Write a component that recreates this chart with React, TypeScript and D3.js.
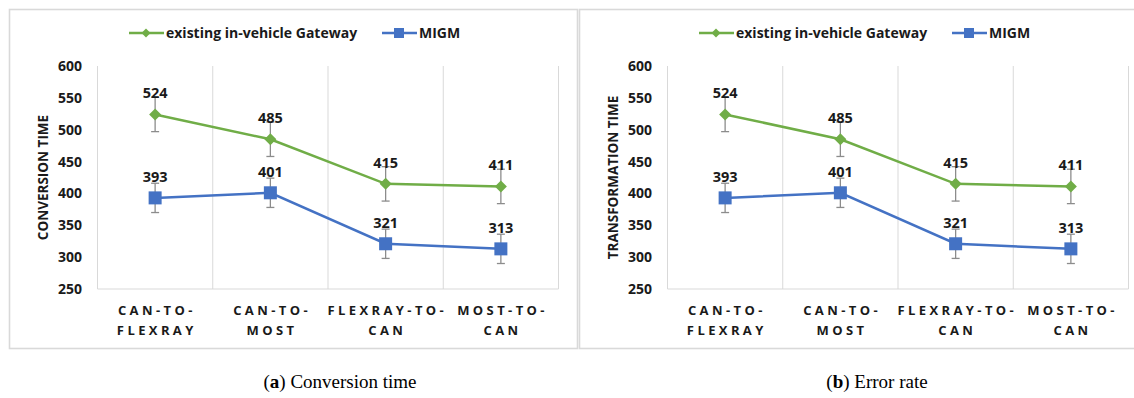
import React from "react";
import * as d3 from "d3";

const categories: string[][] = [
  ["CAN-TO-", "FLEXRAY"],
  ["CAN-TO-", "MOST"],
  ["FLEXRAY-TO-", "CAN"],
  ["MOST-TO-", "CAN"],
];
const gatewayValues = [524, 485, 415, 411];
const migmValues = [393, 401, 321, 313];
const gatewayErrors = [27, 27, 27, 27];
const migmErrors = [23, 23, 23, 23];
const yTicks = [250, 300, 350, 400, 450, 500, 550, 600];
const seriesNames = ["existing in-vehicle Gateway", "MIGM"];
const panelTitles = ["CONVERSION TIME", "TRANSFORMATION TIME"];
const captionLetters = ["a", "b"];
const captionTexts = [" Conversion time", " Error rate"];

const GREEN = "#70AD47";
const BLUE = "#4472C4";
const GRID = "#d9d9d9";
const ERR = "#8c8c8c";
const TXT = "#1a1a1a";
const FONT = "'Open Sans', sans-serif";

function Panel({ idx }: { idx: number }) {
  const dx = idx === 0 ? 0 : 570;
  const left = 97.5 + dx;
  const right = 558.5 + dx;
  const top = 66;
  const bottom = 289;
  const keys = categories.map((_, i) => String(i));
  const x = d3.scaleBand<string>().domain(keys).range([left, right]).padding(0);
  const y = d3.scaleLinear().domain([250, 600]).range([bottom, top]);
  const cx = (i: number) => (x(String(i)) as number) + x.bandwidth() / 2;
  const line = d3
    .line<number>()
    .x((_, i) => cx(i))
    .y((v) => y(v));

  const series = [
    { values: gatewayValues, errors: gatewayErrors, color: GREEN, kind: "diamond" },
    { values: migmValues, errors: migmErrors, color: BLUE, kind: "square" },
  ];

  const marker = (kind: string, px: number, py: number, color: string, key: string) =>
    kind === "diamond" ? (
      <path
        key={key}
        d={`M${px},${py - 6}L${px + 6},${py}L${px},${py + 6}L${px - 6},${py}Z`}
        fill={color}
      />
    ) : (
      <rect key={key} x={px - 6.5} y={py - 6.5} width={13} height={13} fill={color} />
    );

  const boundaries = [...keys.map((k) => x(k) as number), right];

  const legendX = [129 + dx, 382 + dx];
  const legendY = 33;

  return (
    <g>
      <rect
        x={idx === 0 ? 9.5 : 579.5}
        y={9.5}
        width={idx === 0 ? 568 : 600}
        height={339}
        fill="#fff"
        stroke={GRID}
        strokeWidth={1.6}
      />
      {/* legend */}
      {series.map((s, si) => (
        <g key={si}>
          <line
            x1={legendX[si]}
            x2={legendX[si] + 35}
            y1={legendY}
            y2={legendY}
            stroke={s.color}
            strokeWidth={2.5}
          />
          {s.kind === "diamond" ? (
            <path
              d={`M${legendX[si] + 17},${legendY - 4.5}L${legendX[si] + 21.5},${legendY}L${legendX[si] + 17},${legendY + 4.5}L${legendX[si] + 12.5},${legendY}Z`}
              fill={s.color}
            />
          ) : (
            <rect x={legendX[si] + 12} y={legendY - 5} width={10} height={10} fill={s.color} />
          )}
          <text
            x={legendX[si] + 37}
            y={legendY + 5}
            fontFamily={FONT}
            fontWeight={700}
            fontSize={14}
            fill={TXT}
          >
            {seriesNames[si]}
          </text>
        </g>
      ))}
      {/* grid */}
      {boundaries.map((bx, i) => (
        <line key={i} x1={bx} x2={bx} y1={top} y2={bottom} stroke={GRID} strokeWidth={1} />
      ))}
      <line x1={left} x2={right} y1={bottom} y2={bottom} stroke={GRID} strokeWidth={1} />
      {/* y ticks */}
      {yTicks.map((t) => (
        <text
          key={t}
          x={left - 15.5}
          y={y(t) + 5}
          textAnchor="end"
          fontFamily={FONT}
          fontWeight={700}
          fontSize={14}
          fill={TXT}
        >
          {t}
        </text>
      ))}
      {/* y title */}
      <text
        transform={`translate(${left - 54.5},${(top + bottom) / 2}) rotate(-90)`}
        textAnchor="middle"
        dominantBaseline="central"
        fontFamily={FONT}
        fontWeight={700}
        fontSize={13.5}
        fill={TXT}
      >
        {panelTitles[idx]}
      </text>
      {/* x labels */}
      {categories.map((c, i) => (
        <text
          key={i}
          textAnchor="middle"
          fontFamily={FONT}
          fontWeight={700}
          fontSize={13}
          letterSpacing={3.4}
          fill={TXT}
        >
          {c.map((ln, li) => (
            <tspan key={li} x={cx(i) + 1.7} y={315 + li * 19.5}>
              {ln}
            </tspan>
          ))}
        </text>
      ))}
      {/* series */}
      {series.map((s, si) => (
        <g key={si}>
          {s.values.map((v, i) => (
            <g key={i} stroke={ERR} strokeWidth={1.3}>
              <line x1={cx(i)} x2={cx(i)} y1={y(v + s.errors[i])} y2={y(v - s.errors[i])} />
              <line x1={cx(i) - 4} x2={cx(i) + 4} y1={y(v + s.errors[i])} y2={y(v + s.errors[i])} />
              <line x1={cx(i) - 4} x2={cx(i) + 4} y1={y(v - s.errors[i])} y2={y(v - s.errors[i])} />
            </g>
          ))}
          <path d={line(s.values) || ""} fill="none" stroke={s.color} strokeWidth={2.5} />
          {s.values.map((v, i) => marker(s.kind, cx(i), y(v), s.color, `m${i}`))}
          {s.values.map((v, i) => (
            <text
              key={`l${i}`}
              x={cx(i)}
              y={y(v) - 16}
              textAnchor="middle"
              fontFamily={FONT}
              fontWeight={700}
              fontSize={14.5}
              fill={TXT}
            >
              {v}
            </text>
          ))}
        </g>
      ))}
      {/* caption */}
      <text
        x={idx === 0 ? 340 : 877}
        y={388}
        textAnchor="middle"
        fontFamily="'Liberation Serif', serif"
        fontSize={19}
        fill="#000"
      >
        (<tspan fontWeight={700}>{captionLetters[idx]}</tspan>){captionTexts[idx]}
      </text>
    </g>
  );
}

export default function App() {
  return (
    <svg
      width={1134}
      height={398}
      style={{ position: "absolute", left: 0, top: 0, background: "#fff" }}
    >
      <rect x={0} y={0} width={1134} height={398} fill="#fff" />
      <Panel idx={0} />
      <Panel idx={1} />
    </svg>
  );
}
